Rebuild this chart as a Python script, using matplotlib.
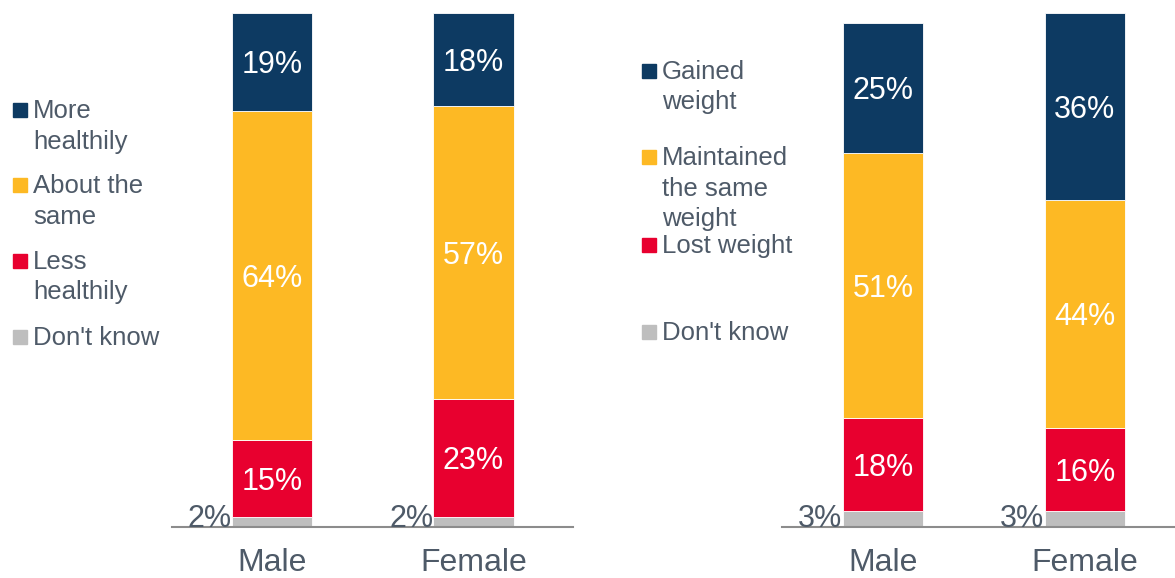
import matplotlib
matplotlib.use('Agg')
import matplotlib.pyplot as plt
from matplotlib.patches import Rectangle

plt.rcParams['font.family'] = ['Liberation Sans', 'DejaVu Sans']

W, H = 1175, 578
TXT = "#4e5a68"

groups = ["Male", "Female"]

# eating habits, listed bottom to top of the stack
eat_labels = ["Don't know", "Less\nhealthily", "About the\nsame", "More\nhealthily"]
eat_dont_know = [2, 2]
eat_less = [15, 23]
eat_same = [64, 57]
eat_more = [19, 18]

# weight change, listed bottom to top of the stack
wt_labels = ["Don't know", "Lost weight", "Maintained\nthe same\nweight", "Gained\nweight"]
wt_dont_know = [3, 3]
wt_lost = [18, 16]
wt_same = [51, 44]
wt_gained = [25, 36]

colors = ["#bebebe", "#e8002f", "#fdb924", "#0d3a62"]


def fx(x):
    return x / W


def fy(y):
    return 1 - y / H


def draw_panel(ax, series, ymax):
    x = [0, 1]
    width = 0.4
    bottom = [0, 0]
    for i, vals in enumerate(series):
        ax.bar(x, vals, width, bottom=bottom, color=colors[i],
               edgecolor='white', linewidth=0.6)
        for xi, v, b in zip(x, vals, bottom):
            if i == 0:
                ax.text(xi - width / 2, 0, "%d%%" % v, ha='right', va='baseline',
                        fontsize=22, color=TXT)
            else:
                ax.text(xi, b + v / 2, "%d%%" % v, ha='center', va='center_baseline',
                        fontsize=22, color='white')
        bottom = [b + v for b, v in zip(bottom, vals)]

    ax.set_ylim(0, ymax)
    ax.set_xticks(x)
    ax.set_xticklabels(groups, fontsize=23, color=TXT)
    ax.tick_params(axis='x', length=0, pad=15)
    ax.set_yticks([])
    for s in ['left', 'right', 'top']:
        ax.spines[s].set_visible(False)
    ax.spines['bottom'].set_color('#8c8c8c')
    ax.spines['bottom'].set_linewidth(1.5)


def draw_legend(fig, labels, left, centers):
    for lab, c, cy in zip(labels, colors, centers):
        fig.patches.append(Rectangle((fx(left), fy(cy + 7)), fx(14), 14 / H,
                                     transform=fig.transFigure, color=c))
        for k, line in enumerate(lab.split("\n")):
            fig.text(fx(left + 20), fy(cy + 8 + 30.5 * k), line, ha='left',
                     va='baseline', fontsize=18.5, color=TXT)


fig = plt.figure(figsize=(W / 100, H / 100), dpi=100)

ax1 = fig.add_axes([fx(172), 51 / H, 401 / W, 517 / H])
draw_panel(ax1, [eat_dont_know, eat_less, eat_same, eat_more], 100.6)
ax1.set_xlim(-0.496, 1.494)

ax2 = fig.add_axes([fx(782), 51 / H, 393 / W, 517 / H])
draw_panel(ax2, [wt_dont_know, wt_lost, wt_same, wt_gained], 99.5)
ax2.set_xlim(-0.5, 1.446)

draw_legend(fig, eat_labels, 13, [337, 261, 185, 110])
draw_legend(fig, wt_labels, 642, [332, 245, 157, 71])

fig.savefig("out.png", dpi=100)
